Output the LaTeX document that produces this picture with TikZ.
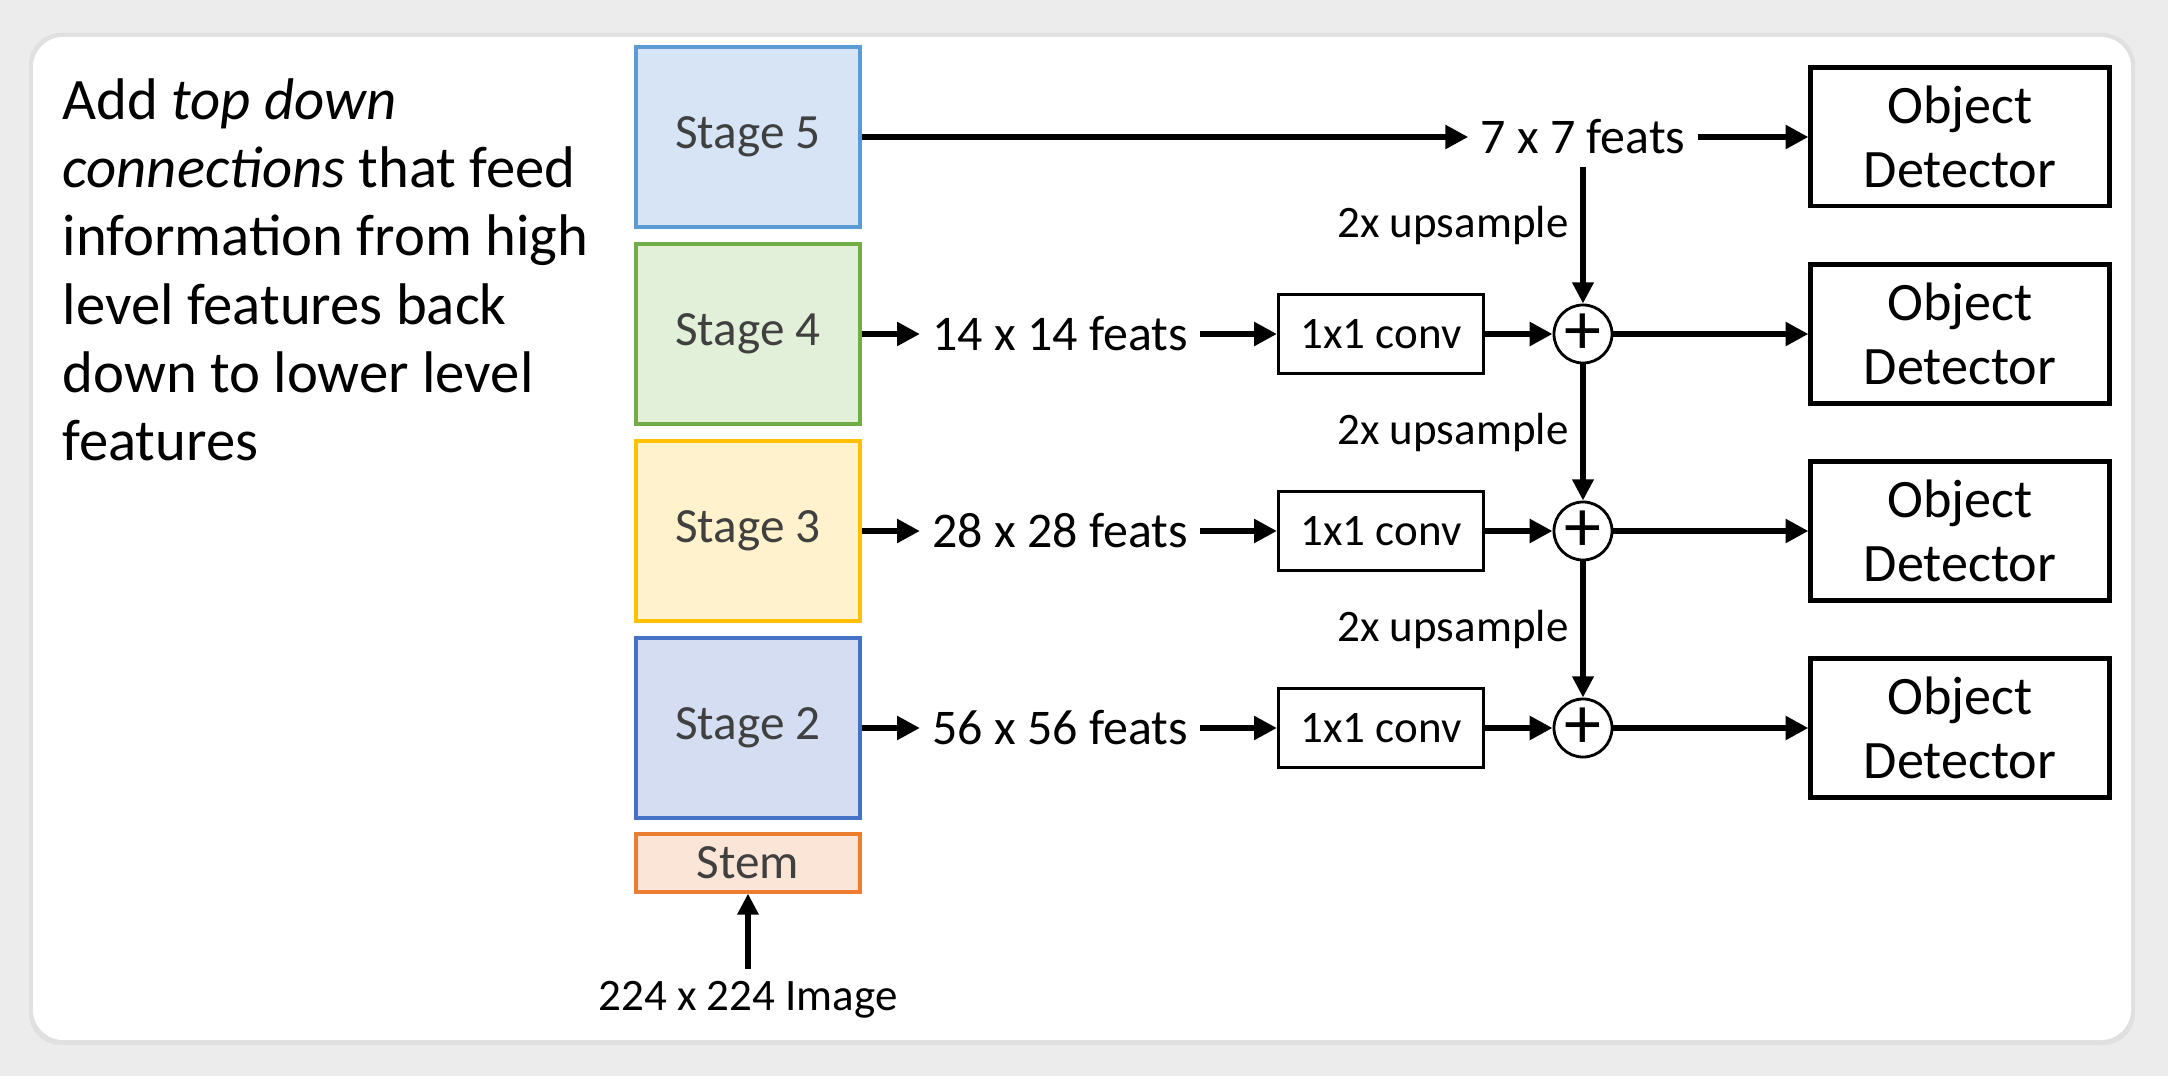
\documentclass[tikz,border=0pt]{standalone}
\usepackage{fontspec}
\setmainfont{Carlito}
\usetikzlibrary{arrows.meta}

\definecolor{bgc}{RGB}{236,236,236}
\definecolor{shd}{RGB}{224,224,224}
\definecolor{txt}{RGB}{64,64,64}
\definecolor{fiveF}{RGB}{214,228,246}
\definecolor{fiveB}{RGB}{91,155,213}
\definecolor{fourF}{RGB}{226,240,217}
\definecolor{fourB}{RGB}{112,173,71}
\definecolor{threeF}{RGB}{255,242,204}
\definecolor{threeB}{RGB}{255,192,0}
\definecolor{twoF}{RGB}{212,221,241}
\definecolor{twoB}{RGB}{68,114,196}
\definecolor{stemF}{RGB}{251,229,214}
\definecolor{stemB}{RGB}{237,125,49}

\begin{document}
\begin{tikzpicture}[x=0.01cm,y=-0.01cm,
    stage/.style={draw, line width=0.9pt, minimum width=2.24cm, minimum height=1.80cm,
      text=txt, font=\fontsize{14}{17}\selectfont},
    stembox/.style={stage, minimum height=0.58cm},
    feat/.style={font=\fontsize{14.2}{17}\selectfont},
    small/.style={font=\fontsize{12.8}{15}\selectfont},
    conv/.style={draw, line width=0.85pt, minimum width=2.05cm, minimum height=0.78cm, small},
    plus/.style={draw, circle, line width=0.8pt, minimum size=0.58cm, inner sep=0pt,
      font=\fontsize{21}{21}\selectfont},
    det/.style={draw, line width=1.4pt, minimum width=2.98cm, minimum height=1.38cm,
      align=center, font=\fontsize{15.4}{18}\selectfont},
    bigarrow/.style={line width=1.9pt, -{Triangle[length=6.5pt,width=6.5pt]}},
    uparrow/.style={line width=1.6pt, -{Triangle[length=6pt,width=5.8pt]}}]
  \useasboundingbox (0,0) rectangle (2168,1076);
  \fill[bgc] (0,0) rectangle (2168,1076);
  \fill[shd, rounded corners=0.32cm] (29,33) rectangle (2135,1045);
  \fill[white, rounded corners=0.3cm] (33,37) rectangle (2131,1040);

  \node[anchor=north west, inner sep=0pt, align=left, font=\fontsize{16.7}{19.4}\selectfont] (intro) at (62,78)
    {Add \textit{top down}\\\textit{connections} that feed\\information from high\\level features back\\down to lower level\\features};

  \foreach \n/\y/\fc/\bc in {5/137/fiveF/fiveB, 4/334/fourF/fourB, 3/531/threeF/threeB, 2/728/twoF/twoB}
    \node[stage, fill=\fc, draw=\bc] (s\n) at (748,\y) {Stage \n};
  \node[stembox, fill=stemF, draw=stemB] (stem) at (748,863) {Stem};
  \node[small] (img) at (748,1000) {224 x 224 Image};
  \draw[uparrow] (img.north) -- (stem.south);

  \node[feat] (f5) at (1583,137) {7 x 7 feats};
  \node[det] (d5) at (1960,137) {Object\\Detector};
  \draw[bigarrow] (s5.east) -- (f5.west);
  \draw[bigarrow] (f5.east) -- (d5.west);

  \foreach \n/\m/\y in {4/14/334, 3/28/531, 2/56/728} {
    \node[feat] (f\n) at (1060,\y) {\m{} x \m{} feats};
    \node[conv] (c\n) at (1381,\y) {1x1 conv};
    \node[plus] (p\n) at (1583,\y) {+};
    \node[det] (d\n) at (1960,\y) {Object\\Detector};
    \draw[bigarrow] (s\n.east) -- (f\n.west);
    \draw[bigarrow] (f\n.east) -- (c\n.west);
    \draw[bigarrow] (c\n.east) -- (p\n.west);
    \draw[bigarrow] (p\n.east) -- (d\n.west);
  }

  \draw[uparrow] (f5.south) -- (p4.north) node[pos=0.43, left, small] {2x upsample};
  \draw[uparrow] (p4.south) -- (p3.north) node[midway, left, small] {2x upsample};
  \draw[uparrow] (p3.south) -- (p2.north) node[midway, left, small] {2x upsample};
\end{tikzpicture}
\end{document}
